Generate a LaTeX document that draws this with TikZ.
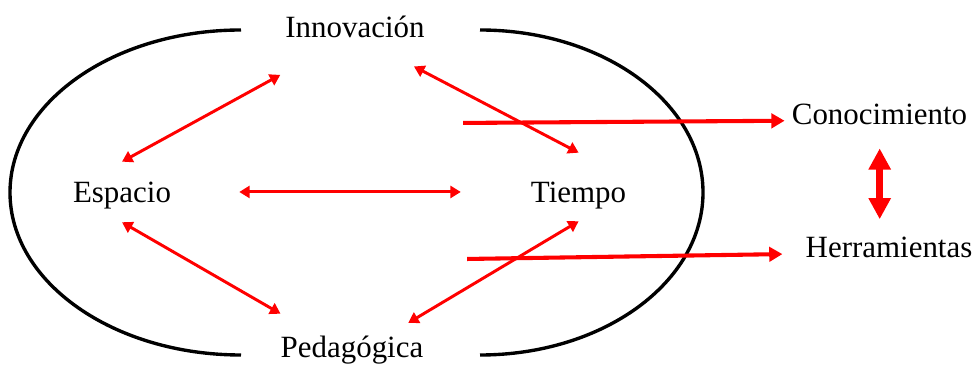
\documentclass[tikz,border=0pt]{standalone}
\usepackage{fontspec}
\setmainfont{Liberation Serif}
\usetikzlibrary{arrows.meta}

\begin{document}
\begin{tikzpicture}[scale=2.5,
	word/.style={font=\fontsize{22}{26}\selectfont,inner sep=0pt,anchor=base},
	link/.style={red,line width=2.1pt,{Triangle[length=0.26cm,width=0.3cm]}-{Triangle[length=0.26cm,width=0.3cm]}},
	bigarrow/.style={red,line width=2.9pt,-{Triangle[length=0.33cm,width=0.36cm]}},
	dblarrow/.style={red,line width=5pt,{Triangle[length=0.53cm,width=0.53cm]}-{Triangle[length=0.53cm,width=0.53cm]}}]
	\useasboundingbox (0,0) rectangle (9.77,3.65);
	
	%ellipse
	\draw[line width=2.4pt] (2.41,3.35) arc[start angle=90,end angle=270,x radius=2.31,y radius=1.625];
	\draw[line width=2.4pt] (4.80,3.35) arc[start angle=90,end angle=-90,x radius=2.23,y radius=1.625];
	
	%words
	\node[word,text depth=0.85cm] (inno) at (3.55,3.27) {Innovación};
	\node[word,text height=1.025cm,text depth=0.475cm] (esp) at (1.22,1.62) {Espacio};
	\node[word,text height=1.25cm,text depth=0.45cm] (tie) at (5.785,1.62) {Tiempo};
	\node[word,text height=1.1cm] (ped) at (3.52,0.07) {Pedagógica};
	%
	\node[word,text depth=0.3cm] (con) at (8.795,2.40) {Conocimiento};
	\node[word,text depth=0.3cm] (her) at (8.89,1.07) {Herramientas};
	
	%inner arrows
	\draw[link,shorten >=0.14cm] (esp.north) -- (inno.south west);
	\draw[link] (esp.south) -- (ped.north west);
	\draw[link,shorten <=1.7cm,shorten >=1.75cm] (esp.east) -- (esp.east -| tie.west);
	\draw[link,shorten <=-0.31cm] (inno.south east) -- (tie.north);
	\draw[link,shorten <=-0.45cm] (ped.north east) -- (tie.south);
	
	%outer arrows
	\coordinate (c1) at (4.63,2.42);
	\coordinate (c2) at (4.67,1.06);
	\draw[bigarrow,shorten >=0.18cm] (c1) -- (con.west);
	\draw[bigarrow,shorten >=0.58cm] (c2) -- (her.west);
	\draw[dblarrow,shorten <=0.28cm,shorten >=0.45cm] (con.south) -- (con.south |- her.north);
\end{tikzpicture}
\end{document}
